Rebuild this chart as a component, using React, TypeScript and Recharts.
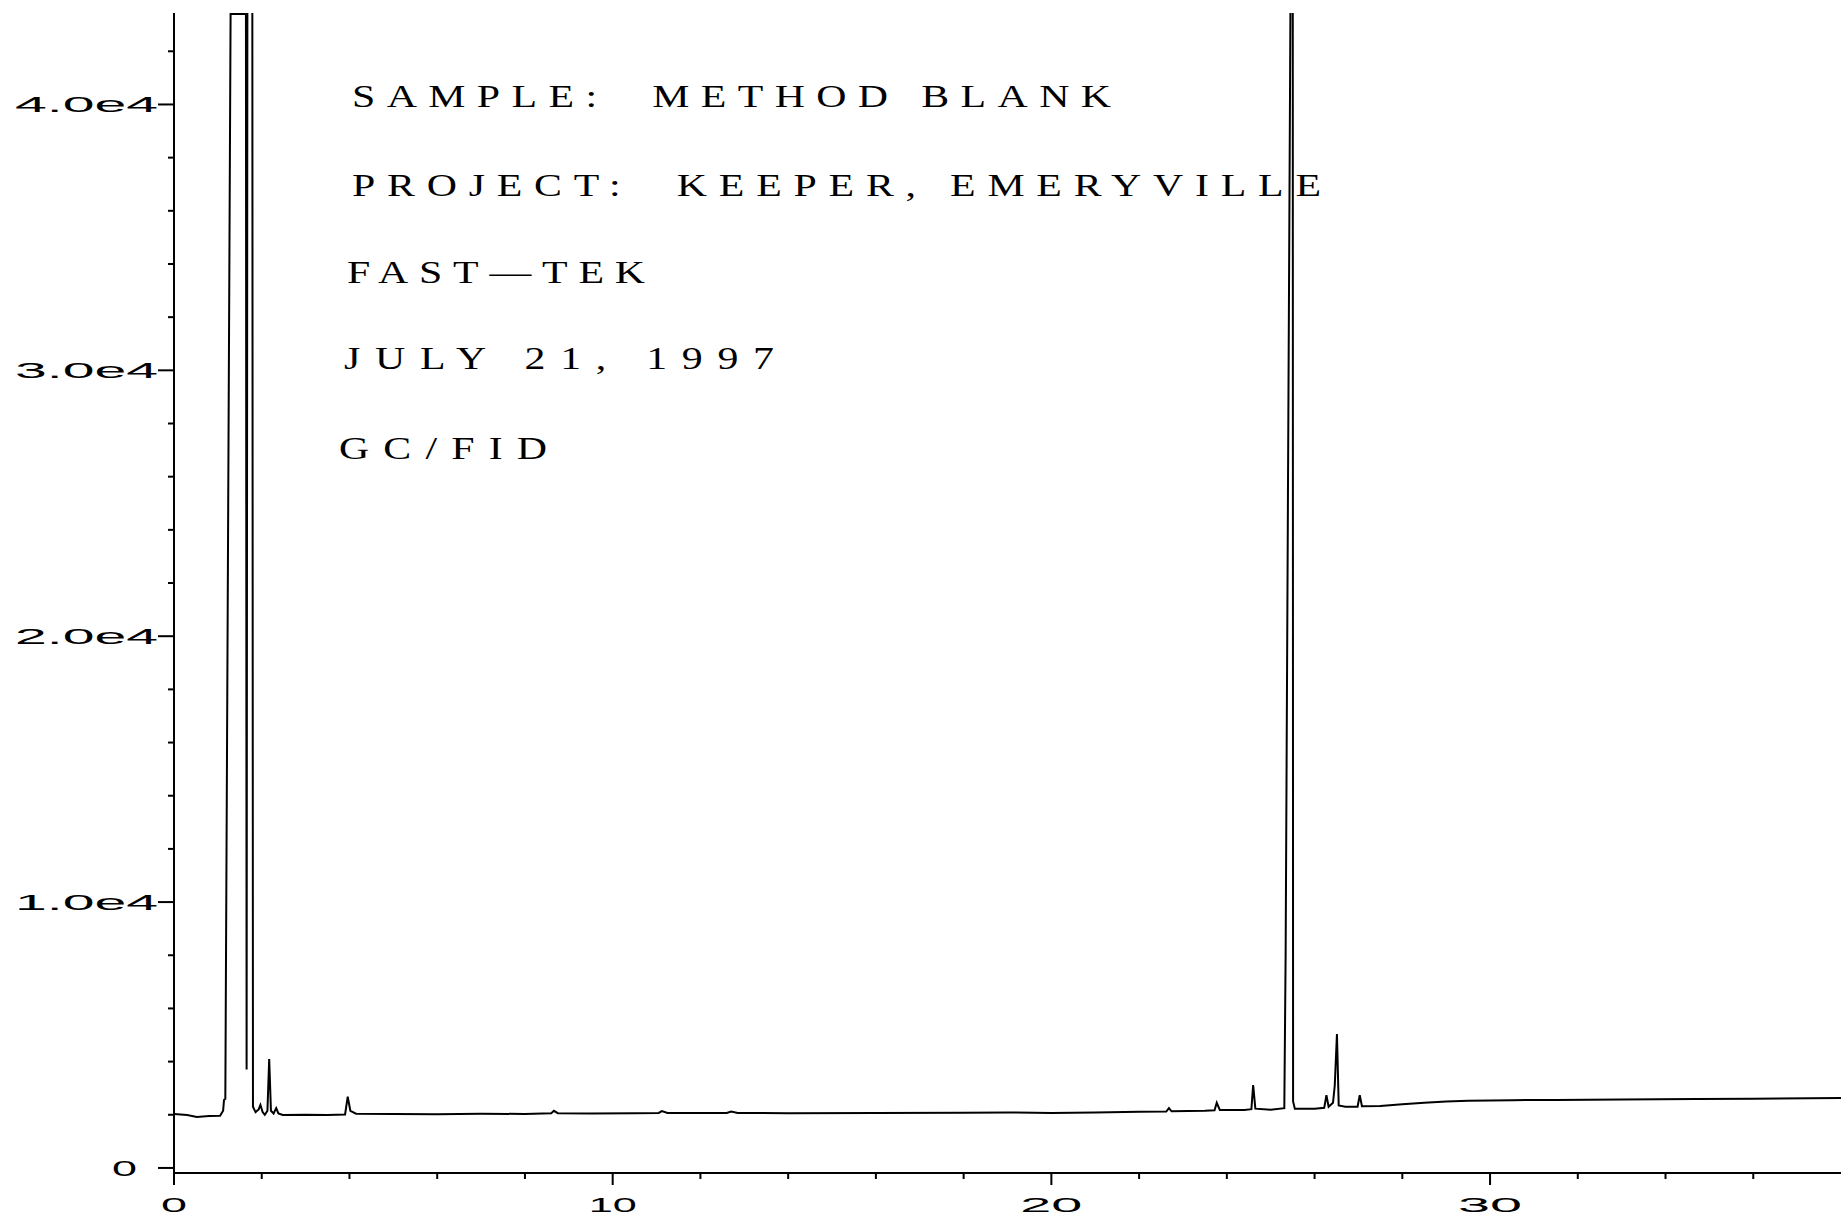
import React from 'react';
import { LineChart, Line, XAxis, YAxis } from 'recharts';

// retention time (min) and detector signal
const retentionTime = [
  0.0, 0.3, 0.52, 0.8, 1.05, 1.12, 1.14, 1.17, 1.29, 1.64, 1.655, 1.68, 1.78, 1.8, 1.86, 1.93, 1.97, 2.02,
  2.07, 2.13, 2.17, 2.21, 2.27, 2.33, 2.38, 2.48, 3.0, 3.5, 3.9, 3.96, 4.02, 4.15, 5.0, 6.0, 7.0, 8.0,
  8.6, 8.66, 8.75, 9.5, 10.5, 11.05, 11.12, 11.25, 12.6, 12.7, 12.85, 14.0, 16.0, 18.0, 19.0, 20.0,
  21.0, 22.0, 22.62, 22.68, 22.74, 23.5, 23.72, 23.77, 23.84, 24.4, 24.56, 24.6, 24.65, 25.0, 25.31,
  25.34, 25.5, 25.51, 25.55, 26.0, 26.22, 26.27, 26.32, 26.42, 26.46, 26.51, 26.55, 26.7, 26.98,
  27.03, 27.08, 27.5, 28.0, 28.5, 29.0, 29.5, 30.5, 31.5, 33.0, 34.7, 36.0, 38.0,
];
const signal = [
  2030, 1990, 1920, 1950, 1960, 2150, 2560, 2600, 43400, 43400, 3700, 60000, 60000, 2300, 2100, 2200, 2370, 2100,
  2000, 2150, 4100, 2150, 2050, 2250, 2050, 1990, 2000, 1990, 2010, 2680, 2150, 2040, 2030, 2020, 2040, 2030,
  2060, 2150, 2060, 2050, 2060, 2070, 2140, 2070, 2070, 2120, 2070, 2060, 2070, 2080, 2090, 2070,
  2090, 2110, 2120, 2250, 2130, 2150, 2170, 2450, 2180, 2180, 2210, 3120, 2230, 2190, 2250,
  8000, 60000, 2500, 2230, 2230, 2260, 2740, 2300, 2450, 3100, 5040, 2350, 2300, 2300,
  2740, 2320, 2330, 2400, 2450, 2500, 2530, 2550, 2560, 2570, 2590, 2600, 2630,
];

const xTicks = [0, 2, 4, 6, 8, 10, 12, 14, 16, 18, 20, 22, 24, 26, 28, 30, 32, 34, 36];
const xMajorTicks = [0, 10, 20, 30];
const xTickLabels = ['0', '10', '20', '30'];

const yTicks = [
  0, 2000, 4000, 6000, 8000, 10000, 12000, 14000, 16000, 18000, 20000, 22000, 24000, 26000, 28000, 30000,
  32000, 34000, 36000, 38000, 40000, 42000,
];
const yMajorTicks = [0, 10000, 20000, 30000, 40000];
const yTickLabels = ['0', '1.0e4', '2.0e4', '3.0e4', '4.0e4'];

const annotationLines = [
  'SAMPLE:  METHOD BLANK',
  'PROJECT:  KEEPER, EMERYVILLE',
  'FAST\u2014TEK',
  'JULY 21, 1997',
  'GC/FID',
];

const data = retentionTime.map((t, i) => ({ t, v: signal[i] }));

// layout / style (not data)
const W = 1841;
const H = 1217;
const TEXT_SCALE_X = 1.35;
const annotationLayout = [
  { x: 352, y: 107, len: 759 },
  { x: 352, y: 196, len: 969 },
  { x: 347, y: 283, len: 298 },
  { x: 344, y: 369, len: 430 },
  { x: 339, y: 459, len: 208 },
];
const xLabelLen: Record<string, number> = { '0': 26, '10': 48, '20': 62, '30': 64 };

function XTick(props: any) {
  const { x, y, payload } = props;
  const idx = xMajorTicks.indexOf(payload.value);
  const major = idx >= 0;
  const label = major ? xTickLabels[idx] : '';
  return (
    <g>
      <line x1={x} x2={x} y1={y} y2={y + (major ? 12 : 6)} stroke="#000" strokeWidth={2} />
      {major && (
        <text
          x={x}
          y={y + 39}
          textAnchor="middle"
          fontFamily="Liberation Sans, Arial, sans-serif"
          fontSize={21}
          fill="#000"
          textLength={xLabelLen[label]}
          lengthAdjust="spacingAndGlyphs"
        >
          {label}
        </text>
      )}
    </g>
  );
}

function YTick(props: any) {
  const { x, y, payload } = props;
  const idx = yMajorTicks.indexOf(payload.value);
  const major = idx >= 0;
  const label = major ? yTickLabels[idx] : '';
  const isZero = payload.value === 0;
  return (
    <g>
      <line x1={x - (major ? 16 : 6)} x2={x} y1={y} y2={y} stroke="#000" strokeWidth={2} />
      {major && (
        <text
          x={isZero ? x - 37 : x - 16}
          y={y + 8}
          textAnchor="end"
          fontFamily="Liberation Sans, Arial, sans-serif"
          fontSize={22}
          fill="#000"
          textLength={isZero ? 25 : 143}
          lengthAdjust="spacingAndGlyphs"
        >
          {label}
        </text>
      )}
    </g>
  );
}

export default function App() {
  return (
    <div style={{ position: 'absolute', left: 0, top: 0, width: W, height: H, background: '#fff' }}>
      <LineChart width={W} height={H} data={data} margin={{ top: 13, right: 0, bottom: 0, left: 0 }}>
        <XAxis
          dataKey="t"
          type="number"
          domain={[0, 38]}
          allowDataOverflow
          ticks={xTicks}
          interval={0}
          height={44}
          tickSize={0}
          tickMargin={0}
          tickLine={false}
          axisLine={{ stroke: '#000', strokeWidth: 2 }}
          tick={<XTick />}
        />
        <YAxis
          type="number"
          domain={[-190, 43440]}
          allowDataOverflow
          ticks={yTicks}
          interval={0}
          width={174}
          tickSize={0}
          tickMargin={0}
          tickLine={false}
          axisLine={{ stroke: '#000', strokeWidth: 2 }}
          tick={<YTick />}
        />
        <Line
          dataKey="v"
          type="linear"
          stroke="#000"
          strokeWidth={2}
          dot={false}
          activeDot={false}
          isAnimationActive={false}
        />
      </LineChart>
      <svg
        width={W}
        height={H}
        style={{ position: 'absolute', left: 0, top: 0, pointerEvents: 'none' }}
      >
        {annotationLines.map((line, i) => (
          <text
            key={i}
            transform={`translate(${annotationLayout[i].x},${annotationLayout[i].y}) scale(${TEXT_SCALE_X},1)`}
            x={0}
            y={0}
            fontFamily="Liberation Serif, Times New Roman, serif"
            fontSize={31}
            fill="#000"
            textLength={annotationLayout[i].len / TEXT_SCALE_X}
            lengthAdjust="spacing"
            style={{ whiteSpace: 'pre' }}
          >
            {line}
          </text>
        ))}
      </svg>
    </div>
  );
}
